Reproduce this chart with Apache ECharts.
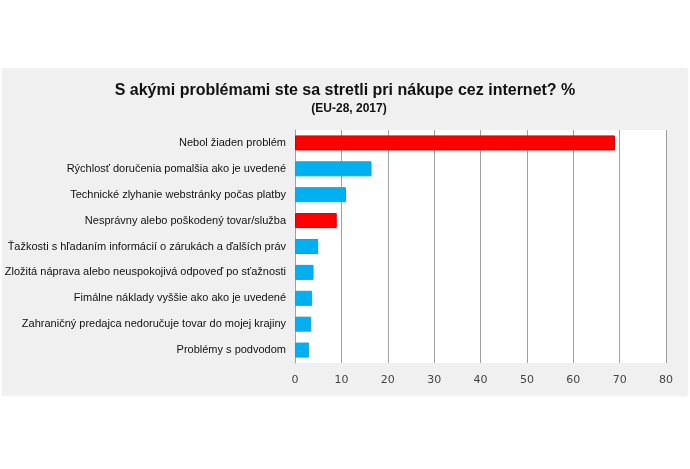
<!DOCTYPE html>
<html>
<head>
<meta charset="utf-8">
<script src="https://cdn.jsdelivr.net/npm/echarts@6/dist/echarts.min.js"></script>
<style>
html,body{margin:0;padding:0;background:#ffffff;}
#chart{width:690px;height:469px;}
</style>
</head>
<body>
<div id="chart"></div>
<script>
var titleText = 'S akými problémami ste sa stretli pri nákupe cez internet? %';
var subtitleText = '(EU-28, 2017)';
var categories = [
  'Nebol žiaden problém',
  'Rýchlosť doručenia pomalšia ako je uvedené',
  'Technické zlyhanie webstránky počas platby',
  'Nesprávny alebo poškodený tovar/služba',
  'Ťažkosti s hľadaním informácií o zárukách a ďalších práv',
  'Zložitá náprava alebo neuspokojivá odpoveď po sťažnosti',
  'Fimálne náklady vyššie ako ako je uvedené',
  'Zahraničný predajca nedoručuje tovar do mojej krajiny',
  'Problémy s podvodom'
];
var values = [69, 16.5, 11, 9, 5, 4, 3.7, 3.5, 3];
var highlighted = [true, false, false, true, false, false, false, false, false];
var xTicks = [0, 10, 20, 30, 40, 50, 60, 70, 80];

var chart = echarts.init(document.getElementById('chart'), null, {renderer: 'canvas'});
var data = values.map(function (v, i) {
  return {
    value: v,
    itemStyle: highlighted[i]
      ? {color: '#ff0000', borderColor: '#d40000', borderWidth: 1}
      : {color: '#00b0f0', borderColor: '#1a9fd8', borderWidth: 1}
  };
});
chart.setOption({
  animation: false,
  backgroundColor: '#ffffff',
  graphic: [{
    type: 'rect', z: -10, silent: true,
    shape: {x: 2, y: 68, width: 686, height: 328},
    style: {fill: '#f0f0f0', stroke: '#f6f6f6', lineWidth: 1}
  }],
  title: [{
    text: titleText,
    left: 'center', top: 78,
    textStyle: {fontFamily: 'Liberation Sans', fontSize: 16, fontWeight: 'bold', color: '#111'}
  }, {
    text: subtitleText,
    left: 344, top: 98, textAlign: 'center',
    textStyle: {fontFamily: 'Liberation Sans', fontSize: 12, fontWeight: 'bold', color: '#111'}
  }],
  grid: {left: 295, right: 24, top: 130, bottom: 106, show: true, backgroundColor: '#ffffff', borderWidth: 0},
  xAxis: {
    type: 'value', min: 0, max: 80, interval: 10,
    axisLine: {show: false},
    axisTick: {show: false},
    splitLine: {show: true, lineStyle: {color: '#a0a0a0', width: 1}},
    axisLabel: {
      margin: 12, color: '#444',
      fontFamily: 'DejaVu Sans', fontSize: 11,
      formatter: function (v) { return xTicks.indexOf(v) >= 0 ? String(v) : ''; }
    }
  },
  yAxis: {
    type: 'category', data: categories, inverse: true,
    axisLine: {show: true, lineStyle: {color: '#a0a0a0', width: 1}},
    axisTick: {show: false},
    axisLabel: {margin: 9, color: '#111', fontFamily: 'Liberation Sans', fontSize: 11}
  },
  series: [{
    type: 'bar', data: data, barCategoryGap: '42%'
  }]
});
</script>
</body>
</html>
